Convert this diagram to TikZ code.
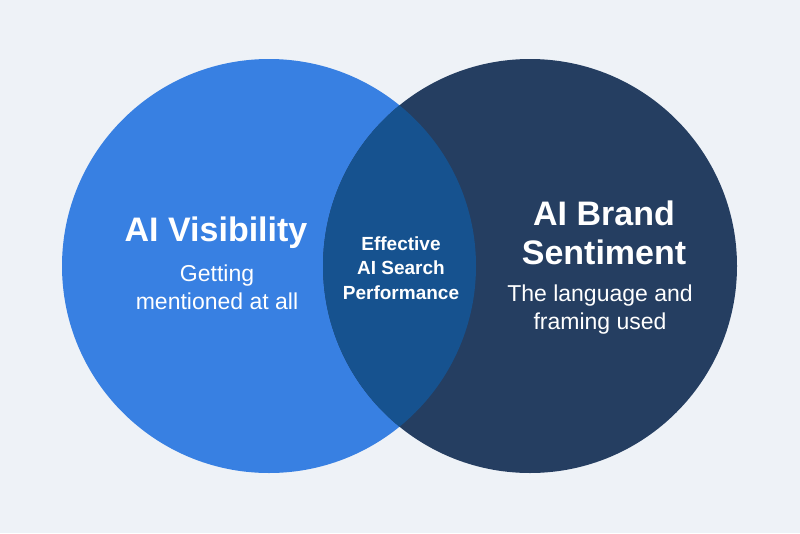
\documentclass[tikz,border=0pt]{standalone}
\usepackage{fontspec}
\setmainfont{Liberation Sans}
\definecolor{bgc}{RGB}{238,242,247}
\definecolor{lblue}{RGB}{56,128,226}
\definecolor{navy}{RGB}{37,62,97}
\definecolor{mixc}{RGB}{22,82,143}
\tikzset{
  title/.style={text=white, font=\bfseries\fontsize{34}{39}\selectfont, align=center, inner sep=0pt},
  sub/.style={text=white, font=\fontsize{23}{28}\selectfont, align=center, inner sep=0pt},
  mid/.style={text=white, font=\bfseries\fontsize{19}{24.5}\selectfont, align=center, inner sep=0pt}
}
\begin{document}
\begin{tikzpicture}[x=1pt,y=-1pt]
\fill[bgc] (0,0) rectangle (800,533);
\useasboundingbox (0,0) rectangle (800,533);
\fill[lblue] (269,266) circle (207);
\fill[navy] (530,266) circle (207);
\begin{scope}
\clip (269,266) circle (207);
\fill[mixc] (530,266) circle (207);
\end{scope}
\node[title] (lt) at (216,233) {AI Visibility};
\node[sub] (ls) at (217,287) {Getting\\mentioned at all};
\node[mid] (mt) at (401,268) {Effective\\AI Search\\Performance};
\node[title] (rt) at (604,233) {AI Brand\\Sentiment};
\node[sub] (rs) at (600,310) {The language and\\framing used};
\end{tikzpicture}
\end{document}
